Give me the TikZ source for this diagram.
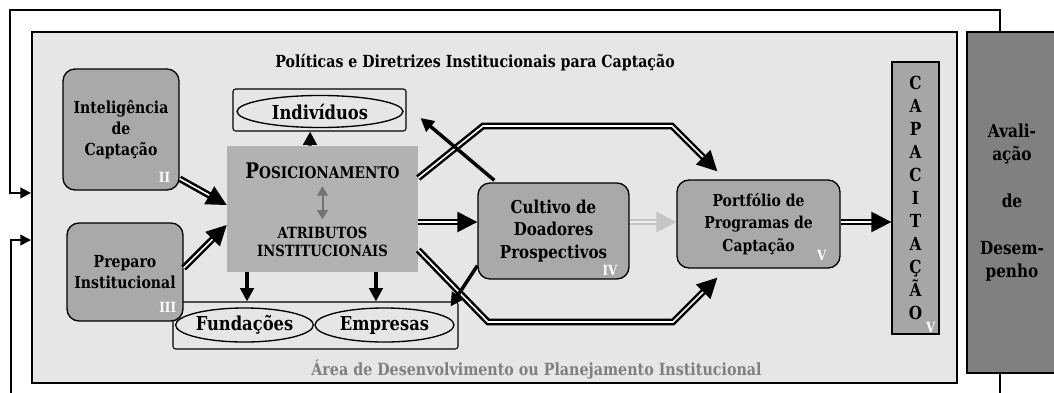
\documentclass[tikz,border=0pt]{standalone}
\usepackage{fontspec}
\setmainfont{DejaVu Serif}[FakeStretch=0.85]
\usetikzlibrary{arrows.meta, shapes.geometric}

\definecolor{areagray}{HTML}{E6E6E8}
\definecolor{boxgray}{HTML}{A9A9A9}
\definecolor{posgray}{HTML}{B2B2B2}
\definecolor{avalgray}{HTML}{808080}
\definecolor{capgray}{HTML}{A6A6A6}
\definecolor{labelgray}{HTML}{7F7F7F}
\definecolor{linkgray}{HTML}{C4C4C6}

\begin{document}
\begin{tikzpicture}[x=0.75pt, y=-0.75pt,
        stage/.style={draw, line width=1pt, fill=boxgray, rounded corners=9pt, align=center,
            font=\bfseries\fontsize{12.4}{16}\selectfont},
        roman/.style={text=white, anchor=south east, inner sep=0pt, font=\bfseries\fontsize{10.5}{10.5}\selectfont},
        group/.style={draw, line width=0.8pt, rounded corners=2pt},
        donor/.style={draw, ellipse, line width=1pt, inner sep=0pt, font=\bfseries\fontsize{14.4}{14.4}\selectfont},
        blk/.style={line width=2.6pt, -{Triangle[length=10pt,width=10pt]}},
        dbl/.style={draw=black, line width=1.9pt, double=white, double distance=1.2pt,
            -{Triangle[length=15pt,width=15pt]}},
        dblgray/.style={draw=linkgray, line width=1.9pt, double=areagray!60!white, double distance=1.2pt,
            -{Triangle[length=15pt,width=15pt]}},
        loop/.style={line width=1.5pt, -{Triangle[length=8pt,width=8pt]}}]

    \useasboundingbox (0,0) rectangle (1054,393);

    % area
    \node[draw, line width=1.5pt, fill=areagray, minimum width=693.75pt, minimum height=263.25pt] (area) at (494.5,207.5) {};
    \node[font=\bfseries\fontsize{12.5}{12.5}\selectfont] (policy) at (475,63) {Políticas e Diretrizes Institucionais para Captação};
    \node[text=labelgray, font=\bfseries\fontsize{12.6}{12.6}\selectfont] (arealabel) at (536.5,370) {Área de Desenvolvimento ou Planejamento Institucional};

    % evaluation
    \node[draw, line width=1pt, fill=avalgray, minimum width=67.5pt, minimum height=255.75pt, align=center,
        font=\bfseries\fontsize{13.5}{17.5}\selectfont] (aval) at (1012,202.5) {Avali-\\ação\\ \\de\\ \\Desem-\\penho};

    % donor groups
    \node[group, minimum width=129.75pt, minimum height=31.5pt] (indbox) at (319.5,110) {};
    \node[donor, minimum width=124.5pt, minimum height=24pt] (ind) at (320,111.5) {Indivíduos};
    \node[group, minimum width=213.75pt, minimum height=35.25pt] (fundbox) at (315.5,325.5) {};
    \node[donor, minimum width=102.75pt, minimum height=25.5pt] (fund) at (244.5,325) {Fundações};
    \node[donor, minimum width=104.25pt, minimum height=25.5pt] (emp) at (384.5,325) {Empresas};

    % stages
    \node[stage, minimum width=87pt, minimum height=90.75pt] (intel) at (121,129.5) {Inteligência\\de\\Captação};
    \node[roman] at ([shift={(-7pt,6pt)}]intel.south east) {II};
    \node[stage, minimum width=87pt, minimum height=73.5pt] (prep) at (125,272) {Preparo\\Institucional};
    \node[roman] at ([shift={(-5.5pt,6.5pt)}]prep.south east) {III};
    \node[stage, minimum width=113.25pt, minimum height=72pt, font=\bfseries\fontsize{13.3}{17}\selectfont] (cult) at (553.5,231) {Cultivo de\\Doadores\\Prospectivos};
    \node[roman] at ([shift={(-9pt,3pt)}]cult.south east) {IV};
    \node[stage, minimum width=122.25pt, minimum height=66pt, font=\bfseries\fontsize{12.3}{17}\selectfont] (port) at (758.5,224) {Portfólio de\\Programas de\\Captação};
    \node[roman] at ([shift={(-10.5pt,6pt)}]port.south east) {V};
    \node[draw, line width=1pt, fill=capgray, minimum width=35.25pt, minimum height=204pt, align=center, inner sep=0pt,
        font=\bfseries\fontsize{13.5}{17.3}\selectfont] (cap) at (915.5,198) {C\\A\\P\\A\\C\\I\\T\\A\\Ç\\Ã\\O};
    \node[roman] at ([shift={(-3pt,1.5pt)}]cap.south east) {V};

    % positioning
    \node[fill=posgray, minimum width=143.25pt, minimum height=94.5pt] (pos) at (322.5,209) {};
    \node[font=\bfseries] (postxt) at (322.5,171) {{\fontsize{16.1}{16.1}\selectfont P}{\fontsize{12.05}{12.05}\selectfont OSICIONAMENTO}};
    \node[align=center, font=\bfseries\fontsize{11.6}{14}\selectfont] (attr) at (322.5,242) {ATRIBUTOS\\INSTITUCIONAIS};
    \draw[black!55, line width=1.5pt, {Triangle[length=7pt,width=8pt]}-{Triangle[length=7pt,width=8pt]}]
        ([yshift=-2pt]postxt.south) -- ([yshift=2pt]attr.north);

    % arrows
    \draw[dbl] (intel.-40) -- ([yshift=3pt]pos.west);
    \draw[dbl] ([yshift=3pt]prep.east) -- ([yshift=-12pt]pos.west);
    \draw[blk] ([xshift=-9.4pt]pos.north) -- ([xshift=-7pt]indbox.south);
    \draw[blk] ([xshift=-56.6pt]pos.south) -- ([xshift=-56.6pt]pos.south |- fundbox.north);
    \draw[blk] ([xshift=40.1pt]pos.south) -- ([xshift=40.1pt]pos.south |- fundbox.north);
    \draw[dbl] ([yshift=-9.75pt]pos.east) -- ([yshift=-9.75pt]pos.east -| cult.west);
    \draw[dblgray] ([yshift=6.75pt]cult.east) -- ([yshift=6.75pt]cult.east -| port.west);
    \draw[dbl] ([yshift=1.5pt]port.east) -- ([yshift=1.5pt]port.east -| cap.west);
    \draw[dbl] ([yshift=23.25pt]pos.east) -- (483,126) -- (672,126) -- ([shift={(30.75pt,6pt)}]port.north west);
    \draw[dbl] ([yshift=-30.75pt]pos.east) -- (488,322) -- (673,322) -- ([shift={(30.75pt,-6.75pt)}]port.south west);
    \draw[blk] ([shift={(12.75pt,1.5pt)}]cult.north west) -- ([shift={(10.5pt,-6pt)}]indbox.east);
    \draw[blk] ([yshift=10.5pt]cult.south west) -- ([shift={(-6pt,-3.75pt)}]fundbox.north east);

    % feedback
    \draw[loop] ([xshift=-9pt]aval.north) |- (10,10) |- ([yshift=10.9pt]area.west);
    \draw[loop] ([xshift=-9pt]aval.south) |- (11,398) |- ([yshift=-24.4pt]area.west);
\end{tikzpicture}
\end{document}
